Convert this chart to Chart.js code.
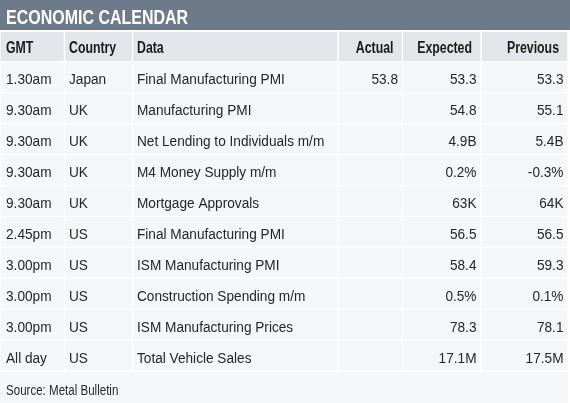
<!DOCTYPE html>
<html>
<head>
<meta charset="utf-8">
<script src="https://cdn.jsdelivr.net/npm/chart.js@4.4.1/dist/chart.umd.min.js"></script>
<style>
  html, body { margin: 0; padding: 0; background: #fff; }
  #wrap { width: 570px; height: 403px; }
</style>
</head>
<body>
<div id="wrap"><canvas id="chart-table"></canvas></div>
<script>
// table content
var title = "ECONOMIC CALENDAR";
var source = "Source: Metal Bulletin";
var headers = ["GMT", "Country", "Data", "Actual", "Expected", "Previous"];
var gmt = ["1.30am", "9.30am", "9.30am", "9.30am", "9.30am", "2.45pm", "3.00pm", "3.00pm", "3.00pm", "All day"];
var country = ["Japan", "UK", "UK", "UK", "UK", "US", "US", "US", "US", "US"];
var events = ["Final Manufacturing PMI", "Manufacturing PMI", "Net Lending to Individuals m/m", "M4 Money Supply m/m",
  "Mortgage Approvals", "Final Manufacturing PMI", "ISM Manufacturing PMI", "Construction Spending m/m",
  "ISM Manufacturing Prices", "Total Vehicle Sales"];
var actual = ["53.8", "", "", "", "", "", "", "", "", ""];
var expected = ["53.3", "54.8", "4.9B", "0.2%", "63K", "56.5", "58.4", "0.5%", "78.3", "17.1M"];
var previous = ["53.3", "55.1", "5.4B", "-0.3%", "64K", "56.5", "59.3", "0.1%", "78.1", "17.5M"];

// layout
var colWidths = [64.5, 68, 205.5, 64.5, 78.5, 87];
var colAlign = ["left", "left", "left", "right", "right", "right"];
var FONT = '"Liberation Sans", Arial, sans-serif';

var columns = [gmt, country, events, actual, expected, previous];
var rowLabels = ["header"].concat(gmt);
var totalWidth = colWidths.reduce(function (a, b) { return a + b; }, 0);

var headerBg = "#e2e5e9";
var cellBg = "#f5f6f8";
var titleBg = "#6c7a8a";

function cellText(c, r) {
  return r === 0 ? headers[c] : columns[c][r - 1];
}

// no condensed face installed, so squeeze a normal one horizontally
function squeezedText(ctx, txt, x, y, align, font, color, sx) {
  ctx.save();
  ctx.translate(x, y);
  ctx.scale(sx, 1);
  ctx.font = font;
  ctx.fillStyle = color;
  ctx.textAlign = align;
  ctx.textBaseline = "alphabetic";
  ctx.fillText(txt, 0, 0);
  ctx.restore();
}

var datasets = columns.map(function (col, c) {
  return {
    label: headers[c],
    data: rowLabels.map(function () { return colWidths[c]; }),
    backgroundColor: rowLabels.map(function (l, r) { return r === 0 ? headerBg : cellBg; }),
    borderColor: "#fff",
    borderWidth: 1,
    borderSkipped: false,
    barPercentage: 1,
    categoryPercentage: 1
  };
});

// title bar + source footer
var framePlugin = {
  id: "frame",
  beforeDraw: function (chart) {
    var ctx = chart.ctx;
    var area = chart.chartArea;
    ctx.save();
    ctx.fillStyle = titleBg;
    ctx.fillRect(0, 0, chart.width, area.top - 1);
    ctx.fillStyle = cellBg;
    ctx.fillRect(0, area.bottom + 1, area.right, chart.height - area.bottom - 1);
    ctx.restore();

    squeezedText(ctx, title, 6, 24, "left", "bold 19.5px " + FONT, "#fff", 0.82);
    squeezedText(ctx, source, 6, area.bottom + 24, "left", "15px " + FONT, "#2a2a2a", 0.77);
  }
};

// cell labels
var textPlugin = {
  id: "cellText",
  afterDatasetsDraw: function (chart) {
    var ctx = chart.ctx;
    chart.data.datasets.forEach(function (ds, c) {
      chart.getDatasetMeta(c).data.forEach(function (el, r) {
        var p = el.getProps(["x", "base", "y"], true);
        var left = Math.min(p.x, p.base), right = Math.max(p.x, p.base);
        var txt = cellText(c, r);
        if (!txt) return;
        var head = r === 0;
        var font = head ? "bold 16px " + FONT : "15.5px " + FONT;
        var color = head ? "#1a1a1a" : "#262626";
        var sx = head ? 0.77 : 0.88;
        var yb = p.y + (head ? 6.5 : 7);
        if (colAlign[c] === "left") {
          squeezedText(ctx, txt, left + (c === 0 ? 6 : 4.5), yb, "left", font, color, sx);
        } else {
          squeezedText(ctx, txt, right - (head ? 9 : 4.5), yb, "right", font, color, sx);
        }
      });
    });
  }
};

new Chart(document.getElementById("chart-table").getContext("2d"), {
  type: "bar",
  data: {
    labels: rowLabels,
    datasets: datasets
  },
  options: {
    indexAxis: "y",
    responsive: true,
    maintainAspectRatio: false,
    animation: false,
    layout: {
      padding: { top: 31, bottom: 32, left: 0, right: 2 }
    },
    plugins: {
      legend: { display: false },
      tooltip: { enabled: false }
    },
    scales: {
      x: { type: "linear", stacked: true, min: 0, max: totalWidth, display: false },
      y: { stacked: true, display: false }
    }
  },
  plugins: [framePlugin, textPlugin]
});
</script>
</body>
</html>
